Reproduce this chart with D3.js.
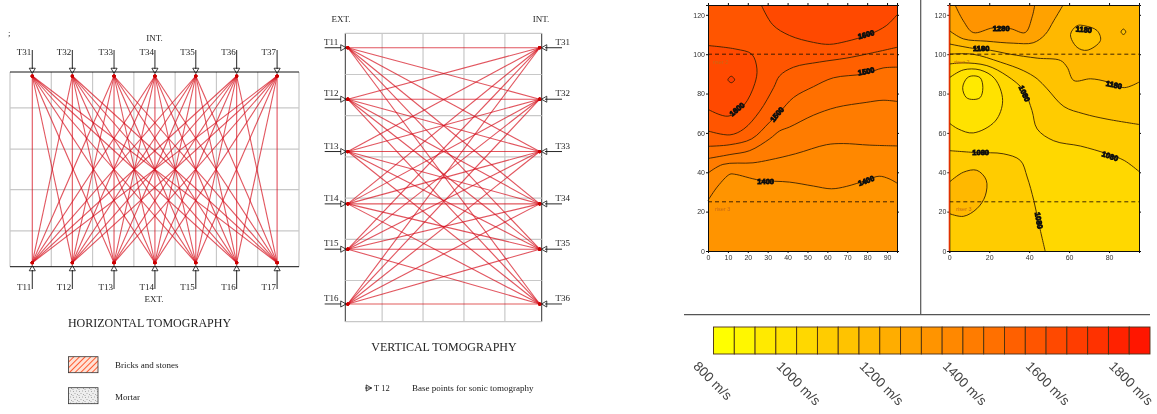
<!DOCTYPE html>
<html>

<head>
    <meta charset="utf-8">
    <script src="https://cdn.jsdelivr.net/npm/d3@7"></script>
    <style>
        html, body { margin: 0; padding: 0; background: #fff; }
        svg { display: block; }
        .serif { font-family: "Liberation Serif"; fill: #222; }
        .axis text { font-family: "Liberation Sans"; font-size: 7px; fill: #333; }
        .axis path, .axis line { stroke: #111; }
    </style>
</head>

<body>

    <script>

        // sensors of the horizontal section, in brick courses along the wall
        var hTop = ["T31", "T32", "T33", "T34", "T35", "T36", "T37"];
        var hBottom = ["T11", "T12", "T13", "T14", "T15", "T16", "T17"];
        var hSensors = [0.54, 1.51, 2.52, 3.51, 4.5, 5.49, 6.47];
        var hColumns = [0, 1, 2, 3, 4, 5, 6, 7];
        var hRows = [0, 0.87, 1.87, 2.85, 3.85, 4.72];

        // sensors of the vertical section, in courses down the wall
        var vLeft = ["T11", "T12", "T13", "T14", "T15", "T16"];
        var vRight = ["T31", "T32", "T33", "T34", "T35", "T36"];
        var vSensors = [0.35, 1.6, 2.87, 4.14, 5.24, 6.57];
        var vColumns = [0, 0.9, 1.9, 2.9, 3.9, 4.8];
        var vRows = [0, 1, 2, 3, 4, 5, 6, 7];

        // velocity scale
        var legendColors = ["#ffff00", "#fff700", "#ffea00", "#ffe200", "#ffd800", "#ffcc00", "#ffc300",
            "#ffb800", "#ffad00", "#ffa200", "#ff9400", "#ff8800", "#ff7c00", "#ff7000", "#ff6000",
            "#ff5400", "#ff4800", "#ff3c00", "#ff3000", "#ff2000", "#ff1400"];
        var legendTicks = [800, 1000, 1200, 1400, 1600, 1800];

        // left contour map: isolines in [x, y]
        var a1 = [[0, 25.7], [5, 33], [11, 39], [13.4, 39], [26, 36], [41, 35], [53, 33], [62, 31.6], [69.5, 32.8], [79.5, 35.9], [86, 38], [91, 36.7], [95, 34.5]];
        var a2 = [[0, 39.6], [7.5, 44], [22.6, 44.8], [31, 46.3], [44, 49.4], [59.5, 54], [68, 54.6], [81, 53.8], [95, 53.4]];
        var a3 = [[0, 47], [11, 49], [21, 51], [31, 57], [36, 61], [41, 63], [53, 69], [64.5, 73], [79.5, 75.5], [88, 76.6], [95, 76]];
        var a4 = [[0, 53.2], [11, 54], [22, 57], [31, 65.5], [36, 70.5], [43, 78], [53, 83.5], [63, 88], [78.5, 90], [88, 93], [95, 93.4]];
        var a5 = [[0, 61], [11, 59], [18, 62], [26, 71], [33, 83], [36, 89], [43, 93.4], [56, 96], [69.5, 98], [79.5, 100], [95, 103.5]];
        var a6 = [[0, 72], [10, 68.5], [18, 74], [23.5, 85], [24.6, 92.5], [22, 100], [14, 102.6], [0, 104.4]];
        var a7 = [[10, 87], [11.7, 85.5], [13.4, 87], [11.7, 88.8]];
        var a8 = [[26.8, 125], [32.5, 115], [41, 109.5], [53, 106], [61, 105], [69.5, 106.5], [81, 110], [89.6, 114.5], [95, 120]];
        var aLevels = [1320, 1370, 1420, 1470, 1520, 1570, 1620, 1670, 1620];
        var aLabels = [["1600", 14.6, 72, -40], ["1500", 34.7, 69.4, -50], ["1600", 79.5, 110, -15],
            ["1500", 79.5, 91.3, -12], ["1400", 29, 35.5, 0], ["1400", 79.5, 35.7, -20]];

        // right contour map
        var b1 = [[2.9, 125], [7, 117], [12, 111], [22, 113.4], [30.5, 113], [38, 111], [41.5, 119], [42.8, 125]];
        var b2 = [[0, 112], [7, 107.8], [18.8, 106.6], [32, 105.6], [42, 105.8], [48, 110], [52.3, 117], [57, 125]];
        var b3 = [[0, 105.2], [11.7, 103], [20.5, 102], [30.5, 100], [44, 98], [55.7, 96.8], [59, 93.4], [62.4, 86.6], [70.8, 87.5], [79, 86], [87.6, 83], [95, 85.8]];
        var b4 = [[0, 100], [11.7, 100], [25.5, 96], [37, 91.7], [44, 87.5], [49, 82.4], [57.4, 73.4], [67.4, 69.7], [79, 67], [95, 64.3]];
        var b5 = [[0, 95], [7, 95.6], [18.8, 94.2], [28.9, 89], [37.3, 81.6], [41.4, 71.4], [44, 62], [52.3, 56], [65.8, 53.3], [79, 49.4], [87.6, 46], [95, 40.4]];
        var b6 = [[0, 88], [7, 92], [15.4, 92], [22.8, 87.5], [26.7, 76.5], [23, 66], [12, 60], [4.5, 62], [0, 65]];
        var b7 = [[6.7, 83], [9, 88], [12, 89], [15.5, 88], [16.8, 83], [15.5, 78], [12, 77], [8.5, 78]];
        var b8 = [[0, 51], [13.7, 50], [27, 49.4], [35.6, 46], [39, 37.6], [42.3, 25.7], [44.8, 14], [48, 0]];
        var b9 = [[0, 35], [7, 40], [13.8, 41], [18.5, 36], [18, 28], [13.8, 21.5], [7, 17.6], [0, 19]];
        var b10 = [[64, 114.5], [60.7, 110], [64, 103.5], [69, 102], [75.7, 107], [74, 112], [67.4, 114.5]];
        var b11 = [[86, 111.3], [87.2, 110], [88.4, 111.3], [87.2, 112.8]];
        var bLevels = [1020, 1070, 1120, 1170, 1270, 1320, 970, 920, 1070, 1170, 1120, 1120];
        var bLabels = [["1280", 26, 113, 0], ["1180", 67.4, 112.5, 5], ["1180", 16, 103, 0], ["1180", 82.5, 84.4, 12],
            ["1080", 37.6, 80, 65], ["1080", 80.5, 48.2, 18], ["1080", 15.7, 50.2, 0], ["1080", 44.8, 15.5, 80]];

        var svg = d3.select('body')
            .append('svg')
            .attr('width', 1157)
            .attr('height', 414);

        var defs = svg.append('defs');

        defs.append('filter').attr('id', 'soft')
            .append('feGaussianBlur').attr('stdDeviation', 0.4);
        defs.append('filter').attr('id', 'softer')
            .append('feGaussianBlur').attr('stdDeviation', 0.25);

        var hatch = defs.append('pattern').attr('id', 'bricks')
            .attr('width', 4).attr('height', 4)
            .attr('patternUnits', 'userSpaceOnUse')
            .attr('patternTransform', 'rotate(45)');
        hatch.append('rect').attr('width', 4).attr('height', 4).attr('fill', '#ffe2d6');
        hatch.append('line').attr('x1', 0).attr('x2', 0).attr('y1', 0).attr('y2', 4)
            .attr('stroke', '#ff5a30').attr('stroke-width', 2);

        var stipple = defs.append('pattern').attr('id', 'mortar')
            .attr('width', 6).attr('height', 6)
            .attr('patternUnits', 'userSpaceOnUse');
        stipple.append('rect').attr('width', 6).attr('height', 6).attr('fill', '#eeeeee');
        [[1, 1], [4, 0.5], [2.5, 3], [5, 4], [0.5, 5]].forEach(function (d) {
            stipple.append('rect').attr('x', d[0]).attr('y', d[1])
                .attr('width', 1).attr('height', 1).attr('fill', '#a8a8a8');
        });

        function label(g, txt, x, y, size, anchor) {
            return g.append('text')
                .attr('class', 'serif')
                .attr('x', x)
                .attr('y', y)
                .attr('font-size', size)
                .attr('text-anchor', anchor || 'start')
                .text(txt);
        }

        function marker(g, x, y, angle) {
            g.append('path')
                .attr('d', d3.symbol(d3.symbolTriangle, 16)())
                .attr('transform', 'translate(' + x + ',' + y + ') rotate(' + angle + ')')
                .attr('fill', 'none')
                .attr('stroke', '#111')
                .attr('stroke-width', 0.8);
        }

        function drawRays(g, pairs) {
            g.selectAll('.ray').data(pairs).enter().append('line')
                .attr('class', 'ray')
                .attr('x1', d => d[0]).attr('y1', d => d[1])
                .attr('x2', d => d[2]).attr('y2', d => d[3])
                .attr('stroke', '#d5101e')
                .attr('stroke-width', 1.1)
                .attr('stroke-opacity', 0.72);
            // the fans close into a solid red tip on each sensor
            g.selectAll('.tip').data(pairs.flatMap(d => [[d[0], d[1]], [d[2], d[3]]])).enter().append('circle')
                .attr('class', 'tip')
                .attr('cx', d => d[0]).attr('cy', d => d[1])
                .attr('r', 1.6)
                .attr('fill', '#cc0000');
        }

        // ---------- horizontal tomography ----------
        function horizontal() {
            var g = svg.append('g').attr('filter', 'url(#softer)');
            var x = d3.scaleLinear().domain([0, 7]).range([10, 299]);
            var y = d3.scaleLinear().domain([0, 4.72]).range([72, 266.7]);

            hColumns.forEach(function (c) {
                g.append('line').attr('x1', x(c)).attr('x2', x(c)).attr('y1', y(0)).attr('y2', y(4.72))
                    .attr('stroke', '#c8c8c8').attr('stroke-width', 1.2);
            });
            hRows.slice(1, -1).forEach(function (r) {
                g.append('line').attr('x1', x(0)).attr('x2', x(7)).attr('y1', y(r)).attr('y2', y(r))
                    .attr('stroke', '#c8c8c8').attr('stroke-width', 1.2);
            });

            var pairs = [];
            hSensors.forEach(function (a) {
                hSensors.forEach(function (b) {
                    pairs.push([x(a), y(0) + 4, x(b), y(4.72) - 4]);
                });
            });
            drawRays(g, pairs);

            [y(0), y(4.72)].forEach(function (yy) {
                g.append('line').attr('x1', x(0)).attr('x2', x(7)).attr('y1', yy).attr('y2', yy)
                    .attr('stroke', '#111').attr('stroke-width', 1);
            });

            hSensors.forEach(function (s, i) {
                g.append('line').attr('x1', x(s)).attr('x2', x(s)).attr('y1', 50).attr('y2', 69)
                    .attr('stroke', '#111').attr('stroke-width', 0.9);
                g.append('line').attr('x1', x(s)).attr('x2', x(s)).attr('y1', 270).attr('y2', 289)
                    .attr('stroke', '#111').attr('stroke-width', 0.9);
                marker(g, x(s), 70, 180);
                marker(g, x(s), 269, 0);
                label(g, hTop[i], x(s) - 1, 55, 9, 'end');
                label(g, hBottom[i], x(s) - 1, 290, 9, 'end');
            });

            label(g, 'INT.', 154.5, 41, 9, 'middle');
            label(g, 'EXT.', 154, 302, 9, 'middle');
            label(g, 'HORIZONTAL TOMOGRAPHY', 149.5, 327, 12, 'middle');
            label(g, ';', 8, 36, 9);

            g.append('rect').attr('x', 68.5).attr('y', 356.7).attr('width', 29.5).attr('height', 16)
                .attr('fill', 'url(#bricks)').attr('stroke', '#333').attr('stroke-width', 0.8);
            label(g, 'Bricks and stones', 115, 368, 9);
            g.append('rect').attr('x', 68.5).attr('y', 387.7).attr('width', 29.5).attr('height', 16)
                .attr('fill', 'url(#mortar)').attr('stroke', '#333').attr('stroke-width', 0.8);
            label(g, 'Mortar', 115, 400, 9);
        }

        // ---------- vertical tomography ----------
        function vertical() {
            var g = svg.append('g').attr('filter', 'url(#softer)');
            var x = d3.scaleLinear().domain([0, 4.8]).range([345.3, 541.7]);
            var y = d3.scaleLinear().domain([0, 7]).range([33.3, 321.7]);

            vColumns.forEach(function (c, i) {
                var edge = i == 0 || i == vColumns.length - 1;
                g.append('line').attr('x1', x(c)).attr('x2', x(c)).attr('y1', y(0)).attr('y2', y(7))
                    .attr('stroke', edge ? '#333' : '#c8c8c8').attr('stroke-width', edge ? 1 : 1.2);
            });
            vRows.forEach(function (r) {
                g.append('line').attr('x1', x(0)).attr('x2', x(4.8)).attr('y1', y(r)).attr('y2', y(r))
                    .attr('stroke', '#c8c8c8').attr('stroke-width', 1.2);
            });

            var pairs = [];
            vSensors.forEach(function (a) {
                vSensors.forEach(function (b) {
                    pairs.push([x(0) + 2.5, y(a), x(4.8) - 2, y(b)]);
                });
            });
            drawRays(g, pairs);

            vSensors.forEach(function (s, i) {
                g.append('line').attr('x1', 324.7).attr('x2', 341).attr('y1', y(s)).attr('y2', y(s))
                    .attr('stroke', '#111').attr('stroke-width', 0.9);
                g.append('line').attr('x1', 545).attr('x2', 562).attr('y1', y(s)).attr('y2', y(s))
                    .attr('stroke', '#111').attr('stroke-width', 0.9);
                marker(g, 342.5, y(s), 90);
                marker(g, 545, y(s), -90);
                label(g, vLeft[i], 324, y(s) - 3, 9);
                label(g, vRight[i], 555.5, y(s) - 3, 9);
            });

            label(g, 'EXT.', 341, 22, 9, 'middle');
            label(g, 'INT.', 541, 22, 9, 'middle');
            label(g, 'VERTICAL TOMOGRAPHY', 444, 351, 12, 'middle');

            marker(g, 368, 388, 90);
            g.append('line').attr('x1', 365).attr('x2', 372).attr('y1', 388).attr('y2', 388)
                .attr('stroke', '#111').attr('stroke-width', 0.8);
            label(g, 'T 12', 374, 391, 8.5);
            label(g, 'Base points for sonic tomography', 412, 391, 9);
        }

        // ---------- contour maps ----------
        var velocityColor = d3.scaleQuantize().domain([800, 1850]).range(legendColors);

        function contourMap(left, right, xTicks, shapes, levels, labels, redEdge) {
            var g = svg.append('g').attr('filter', 'url(#soft)');
            var x = d3.scaleLinear().domain([0, 95]).range([left, right]);
            var y = d3.scaleLinear().domain([0, 125]).range([251, 5]);
            var open = d3.line().x(d => x(d[0])).y(d => y(d[1])).curve(d3.curveCatmullRom);
            var closed = d3.line().x(d => x(d[0])).y(d => y(d[1])).curve(d3.curveCatmullRomClosed);
            var corner = d => 'L' + x(d[0]) + ',' + y(d[1]);

            g.append('rect').attr('x', x(0)).attr('y', y(125))
                .attr('width', x(95) - x(0)).attr('height', y(0) - y(125))
                .attr('fill', velocityColor(levels[0]));

            // painted from the outer band inward, every shape says how it closes
            shapes.forEach(function (s, i) {
                var d = s.blob ? closed(s.pts) : open(s.pts) + (s.via || []).map(corner).join('') + 'Z';
                g.append('path').attr('d', d).attr('fill', velocityColor(levels[i + 1]));
            });
            shapes.forEach(function (s) {
                g.append('path').attr('d', s.blob ? closed(s.pts) : open(s.pts))
                    .attr('fill', 'none').attr('stroke', '#3a2206').attr('stroke-width', 0.9);
            });

            [100, 25].forEach(function (v) {
                g.append('line').attr('x1', x(0)).attr('x2', x(95)).attr('y1', y(v)).attr('y2', y(v))
                    .attr('stroke', '#2a1500').attr('stroke-width', 0.9).attr('stroke-dasharray', '4,3');
            });
            [['riser 2', 2.5, 95], ['riser 3', 3.5, 20.5]].forEach(function (d) {
                g.append('text').attr('x', x(d[1])).attr('y', y(d[2]))
                    .attr('font-family', 'Liberation Sans').attr('font-size', 5.5)
                    .attr('fill', '#c86a10').text(d[0]);
            });

            labels.forEach(function (d) {
                g.append('text')
                    .attr('transform', 'translate(' + x(d[1]) + ',' + y(d[2]) + ') rotate(' + d[3] + ')')
                    .attr('text-anchor', 'middle').attr('dy', '0.35em')
                    .attr('font-family', 'Liberation Sans').attr('font-weight', 'bold').attr('font-size', 7.5)
                    .attr('fill', '#111').attr('stroke', '#111').attr('stroke-width', 0.9)
                    .text(d[0]);
            });

            var yTicks = [0, 20, 40, 60, 80, 100, 120];
            g.append('g').attr('class', 'axis').attr('transform', 'translate(' + left + ',0)')
                .call(d3.axisLeft(y).tickValues(yTicks).tickSize(2).tickPadding(1));
            g.append('g').attr('class', 'axis').attr('transform', 'translate(0,251)')
                .call(d3.axisBottom(x).tickValues(xTicks).tickSize(2).tickPadding(2));
            g.append('g').attr('class', 'axis').attr('transform', 'translate(' + right + ',0)')
                .call(d3.axisRight(y).tickValues(yTicks).tickSize(2).tickFormat(''));
            g.append('g').attr('class', 'axis').attr('transform', 'translate(0,5)')
                .call(d3.axisTop(x).tickValues(xTicks).tickSize(2).tickFormat(''));

            if (redEdge) {
                g.append('line').attr('x1', x(0)).attr('x2', x(0)).attr('y1', y(125)).attr('y2', y(0))
                    .attr('stroke', '#f03000').attr('stroke-width', 1.2);
            }
        }

        function legend() {
            var g = svg.append('g').attr('filter', 'url(#softer)');
            var band = d3.scaleBand().domain(d3.range(legendColors.length)).range([713.5, 1150]);
            var v = d3.scaleLinear().domain([800, 1850]).range([713.5, 1150]);

            g.selectAll('.swatch').data(legendColors).enter().append('rect')
                .attr('class', 'swatch')
                .attr('x', (d, i) => band(i))
                .attr('y', 327)
                .attr('width', band.bandwidth())
                .attr('height', 27)
                .attr('fill', d => d)
                .attr('stroke', '#4a3010')
                .attr('stroke-width', 0.9);

            g.selectAll('.tick-label').data(legendTicks).enter().append('text')
                .attr('class', 'tick-label')
                .attr('transform', d => 'translate(' + (v(d) - 21) + ',367) rotate(45)')
                .attr('font-family', 'Liberation Sans')
                .attr('font-size', 13.5)
                .attr('fill', '#444')
                .text(d => d + ' m/s');
        }

        // frame between the panels
        svg.append('line').attr('x1', 684).attr('x2', 1150).attr('y1', 314.7).attr('y2', 314.7)
            .attr('stroke', '#555').attr('stroke-width', 1.2);
        svg.append('line').attr('x1', 920.7).attr('x2', 920.7).attr('y1', 0).attr('y2', 314.7)
            .attr('stroke', '#555').attr('stroke-width', 1.2);

        horizontal();
        vertical();

        contourMap(708, 897, [0, 10, 20, 30, 40, 50, 60, 70, 80, 90], [
            { pts: a1, via: [[95, 125], [0, 125]] },
            { pts: a2, via: [[95, 125], [0, 125]] },
            { pts: a3, via: [[95, 125], [0, 125]] },
            { pts: a4, via: [[95, 125], [0, 125]] },
            { pts: a5, via: [[95, 125], [0, 125]] },
            { pts: a6 },
            { pts: a7, blob: true },
            { pts: a8, via: [[95, 125]] }
        ], aLevels, aLabels, false);

        contourMap(949.3, 1139, [0, 20, 40, 60, 80], [
            { pts: b5, via: [[95, 125], [0, 125]] },
            { pts: b4, via: [[95, 125], [0, 125]] },
            { pts: b3, via: [[95, 125], [0, 125]] },
            { pts: b2, via: [[0, 125]] },
            { pts: b1 },
            { pts: b6 },
            { pts: b7, blob: true },
            { pts: b8, via: [[0, 0]] },
            { pts: b9 },
            { pts: b10, blob: true },
            { pts: b11, blob: true }
        ], bLevels, bLabels, true);

        legend();
    </script>

</body>

</html>
